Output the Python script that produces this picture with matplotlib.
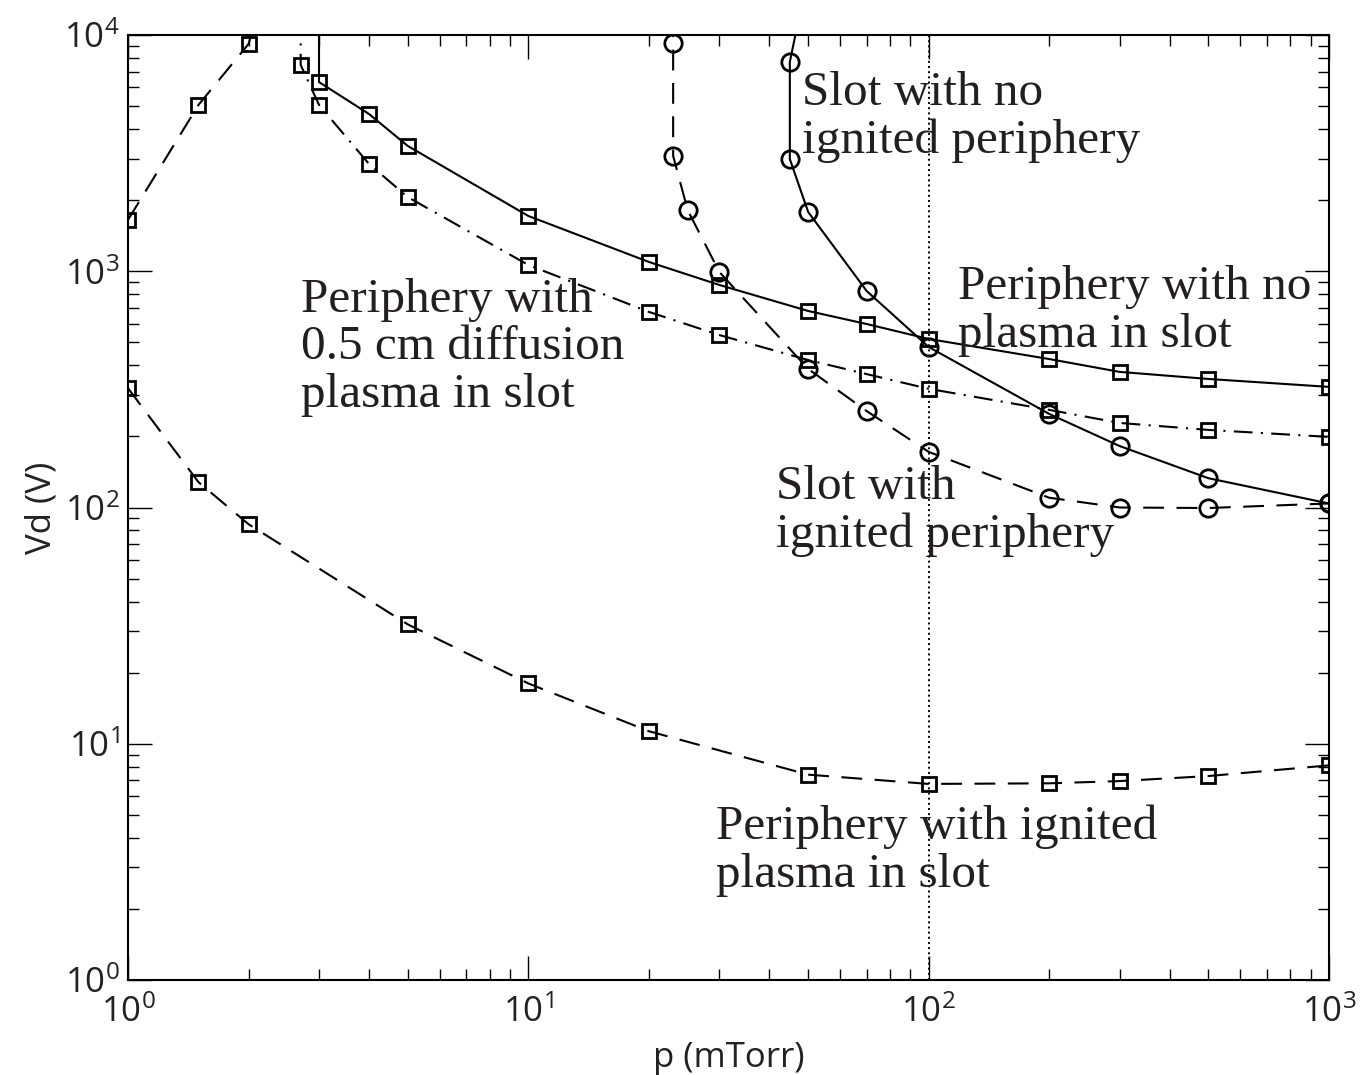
import matplotlib.pyplot as plt
import matplotlib.ticker as mticker
import numpy as np

plt.rcParams['mathtext.fontset'] = 'custom'
plt.rcParams['mathtext.rm'] = 'Open Sans'
plt.rcParams['mathtext.it'] = 'Open Sans:italic'
plt.rcParams['mathtext.bf'] = 'Open Sans:bold'

# Dados (p em mTorr, Vd em V); o primeiro ponto de algumas curvas fica acima do topo do eixo
p_ign_slot = [1, 1.5, 2, 5, 10, 20, 50, 100, 200, 300, 500, 1000]
v_ign_slot = [320, 128, 85, 32, 18, 11.3, 7.4, 6.76, 6.8, 6.95, 7.3, 8.1]

p_paschen = [1, 1.5, 2, 2.1]
v_paschen = [1650, 5060, 9160, 12000]

p_no_plasma = [3, 3, 4, 5, 10, 20, 30, 50, 70, 100, 200, 300, 500, 1000]
v_no_plasma = [12000, 6320, 4630, 3390, 1714, 1095, 875, 679, 598, 517, 425, 375, 350, 324]

p_diff = [2.7, 2.7, 3, 4, 5, 10, 20, 30, 50, 70, 100, 200, 300, 500, 1000]
v_diff = [12000, 7470, 5060, 2845, 2060, 1063, 673, 537, 421, 367, 318, 259, 228, 213, 199]

p_slot_ign = [23, 23, 23, 25, 30, 50, 70, 100, 200, 300, 500, 1000]
v_slot_ign = [12000, 9250, 3076, 1816, 993, 386, 256, 172, 110, 100, 99.5, 104]

p_slot_no = [47.5, 45, 45, 50, 70, 100, 200, 300, 500, 1000]
v_slot_no = [12000, 7690, 2985, 1782, 825, 478, 249, 182, 133, 104]

p_ref = 100

fig = plt.figure(figsize=(13.65, 10.75), dpi=100)
ax = fig.add_axes([128/1365, 1 - 980/1075, 1201/1365, 945/1075])

sq = dict(marker='s', markersize=10, markerfacecolor='none', markeredgecolor='black',
          markeredgewidth=2.0, color='black', linewidth=1.5)
ci = dict(marker='o', markersize=12.5, markerfacecolor='none', markeredgecolor='black',
          markeredgewidth=2.0, color='black', linewidth=1.5)
tracejado = (0, (10, 6))
traco_ponto = (0, (9, 4, 1, 4))

ax.plot(p_ign_slot, v_ign_slot, linestyle=tracejado, **sq)
ax.plot(p_paschen, v_paschen, linestyle=tracejado, **sq)
ax.plot(p_no_plasma, v_no_plasma, linestyle='-', **sq)
ax.plot(p_diff, v_diff, linestyle=traco_ponto, **sq)
ax.plot(p_slot_ign, v_slot_ign, linestyle=tracejado, **ci)
ax.plot(p_slot_no, v_slot_no, linestyle='-', **ci)
ax.axvline(p_ref, color='black', linestyle=':', linewidth=1.4)

ax.set_xscale('log')
ax.set_yscale('log')
ax.set_xlim(1, 1000)
ax.set_ylim(1, 1e4)

ax.xaxis.set_major_formatter(mticker.LogFormatterMathtext())
ax.yaxis.set_major_formatter(mticker.LogFormatterMathtext())
ax.tick_params(which='both', direction='in', top=True, right=True, width=1.0,
               labelsize=25, labelcolor='#222222')
ax.tick_params(which='major', length=17)
ax.tick_params(which='minor', length=8)
ax.tick_params(axis='x', pad=11)
ax.tick_params(axis='y', pad=6)
for s in ax.spines.values():
    s.set_linewidth(1.5)

ax.set_xlabel('p (mTorr)', fontsize=25, fontfamily='Open Sans', color='#222222', labelpad=8)
ax.set_ylabel('Vd (V)', fontsize=25, fontfamily='Open Sans', color='#222222', labelpad=4)
for lab in ax.get_xticklabels() + ax.get_yticklabels():
    lab.set_fontfamily('Open Sans')

# Anotações (posição = linha de base da última linha)
rotulos = [
    (802, 153, 'Slot with no\nignited periphery'),
    (958, 347, 'Periphery with no\nplasma in slot'),
    (301, 407, 'Periphery with\n0.5 cm diffusion\nplasma in slot'),
    (776, 547, 'Slot with\nignited periphery'),
    (716, 887, 'Periphery with ignited\nplasma in slot'),
]
for xp, yp, txt in rotulos:
    fig.text(xp/1365, 1 - yp/1075, txt, fontsize=35.5, fontfamily='Liberation Serif',
             color='#231f20', va='baseline', ha='left', linespacing=1.11)

fig.savefig('out.png', dpi=100)
